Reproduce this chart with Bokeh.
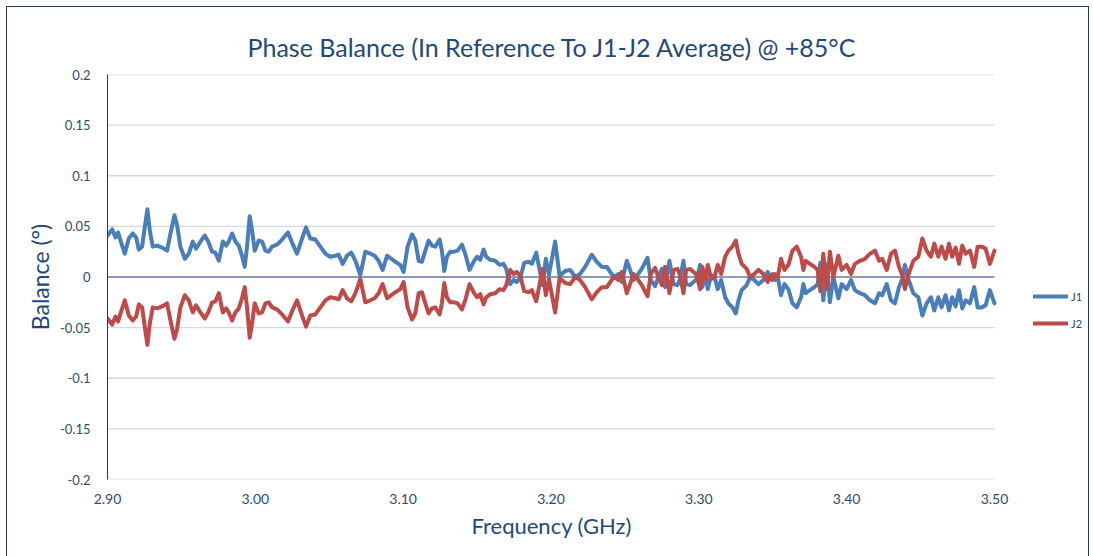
from bokeh.plotting import figure
from bokeh.models import (Range1d, FixedTicker, CustomJSTickFormatter, PrintfTickFormatter,
                          Legend, LegendItem, Title)
from bokeh.embed import file_html
from bokeh.resources import INLINE

title_text = "Phase Balance (In Reference To J1-J2 Average) @ +85°C"
x_label = "Frequency (GHz)"
y_label = "Balance (°)"
x_ticks = [2.90, 3.00, 3.10, 3.20, 3.30, 3.40, 3.50]
y_ticks = [-0.2, -0.15, -0.1, -0.05, 0.0, 0.05, 0.1, 0.15, 0.2]

freq = [
    2.9000, 2.9032, 2.9054, 2.9072, 2.9088, 2.9117, 2.9144, 2.9171, 2.9194, 2.9212,
    2.9234, 2.9252, 2.9270, 2.9286, 2.9306, 2.9336, 2.9370, 2.9403, 2.9426, 2.9453,
    2.9471, 2.9493, 2.9523, 2.9550, 2.9577, 2.9599, 2.9629, 2.9658, 2.9681, 2.9708,
    2.9730, 2.9753, 2.9780, 2.9802, 2.9820, 2.9843, 2.9865, 2.9888, 2.9910, 2.9928,
    2.9944, 2.9962, 2.9978, 2.9996, 3.0023, 3.0046, 3.0068, 3.0091, 3.0113, 3.0147,
    3.0181, 3.0221, 3.0248, 3.0282, 3.0316, 3.0343, 3.0372, 3.0406, 3.0440, 3.0474,
    3.0507, 3.0541, 3.0564, 3.0591, 3.0620, 3.0649, 3.0677, 3.0710, 3.0744, 3.0778,
    3.0807, 3.0834, 3.0861, 3.0891, 3.0920, 3.0947, 3.0981, 3.1003,
    3.1030, 3.1060, 3.1082, 3.1105, 3.1127, 3.1150, 3.1172, 3.1195, 3.1217, 3.1247,
    3.1262, 3.1278, 3.1296, 3.1319, 3.1346, 3.1368, 3.1398, 3.1420, 3.1449, 3.1476,
    3.1499, 3.1521, 3.1544, 3.1562, 3.1589, 3.1623, 3.1652, 3.1679, 3.1697, 3.1724,
    3.1747, 3.1769, 3.1792, 3.1819, 3.1848, 3.1871, 3.1900, 3.1923, 3.1943, 3.1965,
    3.1986, 3.2028, 3.2058, 3.2096, 3.2130, 3.2164, 3.2197, 3.2231, 3.2276, 3.2310,
    3.2344, 3.2378, 3.2400, 3.2427, 3.2457, 3.2479, 3.2513, 3.2535, 3.2558, 3.2585,
    3.2614, 3.2653, 3.2675, 3.2704, 3.2727, 3.2750, 3.2772, 3.2801, 3.2829, 3.2856,
    3.2873, 3.2896, 3.2914, 3.2941, 3.2964, 3.2985,
    3.3009, 3.3024, 3.3042, 3.3061, 3.3083, 3.3106, 3.3128, 3.3151, 3.3178, 3.3200,
    3.3227, 3.3250, 3.3268, 3.3290, 3.3324, 3.3347, 3.3376, 3.3403, 3.3437, 3.3466,
    3.3482, 3.3498, 3.3516, 3.3534, 3.3556, 3.3579, 3.3606, 3.3633, 3.3662, 3.3692,
    3.3707, 3.3723, 3.3752, 3.3782, 3.3804, 3.3822, 3.3842, 3.3865, 3.3887, 3.3910,
    3.3944, 3.3966, 3.4000, 3.4029, 3.4056, 3.4090, 3.4124, 3.4158, 3.4192, 3.4219,
    3.4241, 3.4271, 3.4300, 3.4327, 3.4354, 3.4376, 3.4394, 3.4417, 3.4451, 3.4485,
    3.4512, 3.4541, 3.4570, 3.4593, 3.4620, 3.4642, 3.4669, 3.4692, 3.4714, 3.4737,
    3.4760, 3.4782, 3.4805, 3.4834, 3.4863, 3.4886, 3.4913, 3.4940, 3.4969, 3.5000,
]

j1 = [
    0.041, 0.047, 0.039, 0.044, 0.036, 0.023, 0.038, 0.043, 0.039, 0.027,
    0.030, 0.049, 0.067, 0.046, 0.030, 0.031, 0.029, 0.026, 0.043, 0.061,
    0.051, 0.030, 0.018, 0.023, 0.035, 0.028, 0.035, 0.041, 0.035, 0.025,
    0.024, 0.016, 0.035, 0.031, 0.035, 0.043, 0.035, 0.031, 0.021, 0.010,
    0.030, 0.060, 0.046, 0.026, 0.036, 0.035, 0.026, 0.025, 0.030, 0.032,
    0.037, 0.044, 0.034, 0.023, 0.038, 0.049, 0.038, 0.037, 0.030, 0.023,
    0.020, 0.021, 0.022, 0.013, 0.021, 0.024, 0.016, 0.002, 0.025, 0.023,
    0.021, 0.016, 0.007, 0.021, 0.018, 0.015, 0.012, 0.005,
    0.030, 0.042, 0.036, 0.016, 0.015, 0.026, 0.036, 0.031, 0.030, 0.037,
    0.026, 0.006, 0.020, 0.025, 0.025, 0.026, 0.032, 0.023, 0.007, 0.015,
    0.020, 0.017, 0.027, 0.020, 0.017, 0.016, 0.012, 0.013, 0.008, -0.007,
    -0.003, -0.005, -0.001, 0.014, 0.015, 0.013, 0.024, 0.007, -0.008, 0.018,
    0.002, 0.035, 0.001, 0.006, 0.007, 0.000, 0.003, 0.010, 0.022, 0.015,
    0.010, 0.010, 0.005, 0.000, 0.003, -0.005, 0.016, 0.007, -0.003, 0.002,
    0.008, 0.019, -0.003, -0.009, 0.000, 0.008, -0.010, 0.016, -0.007, -0.008,
    -0.002, 0.016, -0.007, -0.008, -0.005, -0.002,
    0.012, -0.010, 0.003, -0.012, 0.002, 0.000, -0.012, -0.003, -0.020, -0.026,
    -0.030, -0.036, -0.023, -0.013, -0.008, 0.000, -0.003, -0.007, -0.003, 0.005,
    -0.002, 0.003, -0.003, 0.000, -0.018, -0.007, -0.012, -0.026, -0.030, -0.020,
    -0.007, -0.016, -0.013, -0.010, -0.007, 0.014, -0.023, 0.012, -0.025, 0.000,
    -0.021, -0.007, -0.012, -0.003, -0.013, -0.016, -0.018, -0.023, -0.026, -0.016,
    -0.018, -0.007, -0.023, -0.026, -0.010, -0.002, 0.012, -0.002, -0.016, -0.020,
    -0.038, -0.026, -0.020, -0.033, -0.020, -0.030, -0.018, -0.033, -0.020, -0.029,
    -0.013, -0.031, -0.023, -0.026, -0.010, -0.030, -0.030, -0.028, -0.013, -0.026,
]

j2 = [
    -0.041, -0.047, -0.039, -0.044, -0.036, -0.023, -0.038, -0.043, -0.039, -0.027,
    -0.030, -0.049, -0.067, -0.046, -0.030, -0.031, -0.029, -0.026, -0.043, -0.061,
    -0.051, -0.030, -0.018, -0.023, -0.035, -0.028, -0.035, -0.041, -0.035, -0.025,
    -0.024, -0.016, -0.035, -0.031, -0.035, -0.043, -0.035, -0.031, -0.021, -0.010,
    -0.030, -0.060, -0.046, -0.026, -0.036, -0.035, -0.026, -0.025, -0.030, -0.032,
    -0.037, -0.044, -0.034, -0.023, -0.038, -0.049, -0.038, -0.037, -0.030, -0.023,
    -0.020, -0.021, -0.022, -0.013, -0.021, -0.024, -0.016, -0.002, -0.025, -0.023,
    -0.021, -0.016, -0.007, -0.021, -0.018, -0.015, -0.012, -0.005,
    -0.030, -0.042, -0.036, -0.016, -0.015, -0.026, -0.036, -0.031, -0.030, -0.037,
    -0.026, -0.006, -0.020, -0.025, -0.025, -0.026, -0.032, -0.023, -0.007, -0.015,
    -0.020, -0.017, -0.027, -0.020, -0.017, -0.016, -0.012, -0.013, -0.008, 0.007,
    0.003, 0.005, 0.001, -0.014, -0.015, -0.013, -0.024, -0.007, 0.008, -0.018,
    -0.002, -0.035, -0.001, -0.006, -0.007, 0.000, -0.003, -0.010, -0.022, -0.015,
    -0.010, -0.010, -0.005, 0.000, -0.003, 0.005, -0.016, -0.007, 0.003, -0.002,
    -0.008, -0.019, 0.003, 0.009, 0.000, -0.008, 0.010, -0.016, 0.007, 0.008,
    0.002, -0.016, 0.007, 0.008, 0.005, 0.002,
    -0.012, 0.010, -0.003, 0.012, -0.002, 0.000, 0.012, 0.003, 0.020, 0.026,
    0.030, 0.036, 0.023, 0.013, 0.008, 0.000, 0.003, 0.007, 0.003, -0.005,
    0.002, -0.003, 0.003, 0.000, 0.018, 0.007, 0.012, 0.026, 0.030, 0.020,
    0.007, 0.016, 0.013, 0.010, 0.007, -0.014, 0.023, -0.012, 0.025, 0.000,
    0.021, 0.007, 0.012, 0.003, 0.013, 0.016, 0.018, 0.023, 0.026, 0.016,
    0.018, 0.007, 0.023, 0.026, 0.010, 0.002, -0.012, 0.002, 0.016, 0.020,
    0.038, 0.026, 0.020, 0.033, 0.020, 0.030, 0.018, 0.033, 0.020, 0.029,
    0.013, 0.031, 0.023, 0.026, 0.010, 0.030, 0.030, 0.028, 0.013, 0.026,
]

FONT = "Lato"
TEXT = "#1F497D"
TICK = "#2F4A75"
BLUE = "#4A7EBB"
RED = "#BE4B48"

x_lo, x_hi = x_ticks[0], x_ticks[-1]

# frame spans to the chart's right edge so that the legend (outside the axes) stays visible
p = figure(width=1081, height=549, output_backend="svg", toolbar_location=None,
           x_range=Range1d(2.90, 3.5636), y_range=Range1d(-0.2, 0.2),
           min_border_left=100, min_border_right=0, min_border_top=67, min_border_bottom=77)
p.outline_line_color = None
p.background_fill_color = "white"
p.border_fill_color = "white"
p.styles = {"margin": "7px 0 0 7px", "outline": "1px solid #1F3864"}

p.title.text = title_text
p.title.align = "left"
p.title.offset = 140
p.title.text_font = FONT
p.title.text_font_size = "25px"
p.title.text_font_style = "normal"
p.title.text_color = TEXT
p.title.standoff = 26

# axes
p.xaxis.ticker = FixedTicker(ticks=x_ticks)
p.xaxis.formatter = PrintfTickFormatter(format="%.2f")
p.xaxis.axis_line_color = None
p.xaxis.major_tick_line_color = None
p.xaxis.minor_tick_line_color = None
p.xaxis.major_label_text_font = FONT
p.xaxis.major_label_text_font_size = "14px"
p.xaxis.major_label_text_color = TICK
p.xaxis.major_label_standoff = 8

# x-axis title, centred under the data span (2.90-3.50)
p.add_layout(Title(text=x_label, align="left", offset=364, text_font=FONT,
                   text_font_size="22px", text_font_style="normal", text_color=TEXT,
                   standoff=6), "below")

p.yaxis.ticker = FixedTicker(ticks=y_ticks)
p.yaxis.formatter = CustomJSTickFormatter(
    code="var s = tick.toFixed(2).replace(/0+$/, '').replace(/\\.$/, ''); return (s == '-0') ? '0' : s;")
p.yaxis.axis_line_color = "#1F3864"
p.yaxis.axis_line_width = 1
p.yaxis.major_tick_line_color = None
p.yaxis.minor_tick_line_color = None
p.yaxis.major_label_text_font = FONT
p.yaxis.major_label_text_font_size = "13px"
p.yaxis.major_label_text_color = TICK
p.yaxis.major_label_standoff = 11
p.yaxis.axis_label = y_label
p.yaxis.axis_label_text_font = FONT
p.yaxis.axis_label_text_font_size = "23px"
p.yaxis.axis_label_text_font_style = "normal"
p.yaxis.axis_label_text_color = TEXT
p.yaxis.axis_label_standoff = 3

p.xgrid.grid_line_color = None
p.ygrid.grid_line_color = None

# horizontal gridlines across the data span, and the axis line at zero
grid_y = [t for t in y_ticks if t != 0.0]
p.segment(x0=[x_lo] * len(grid_y), x1=[x_hi] * len(grid_y), y0=grid_y, y1=grid_y,
          line_color="#D0D9E6", line_width=1.3)
p.segment(x0=[x_lo], x1=[x_hi], y0=[0.0], y1=[0.0], line_color="#8A9BB5", line_width=2.2)

r1 = p.line(freq, j1, line_color=BLUE, line_width=4, line_join="round", line_cap="round")
r2 = p.line(freq, j2, line_color=RED, line_width=4, line_join="round", line_cap="round")

legend = Legend(items=[LegendItem(label="J1", renderers=[r1]),
                       LegendItem(label="J2", renderers=[r2])],
                location=(926, 146), orientation="vertical",
                glyph_width=35, glyph_height=20, label_standoff=3, spacing=7,
                padding=0, margin=0, border_line_color=None, background_fill_alpha=0,
                label_text_font=FONT, label_text_font_size="11px", label_text_color=TEXT)
p.add_layout(legend, "center")

open("out.html", "w").write(file_html(p, INLINE))
